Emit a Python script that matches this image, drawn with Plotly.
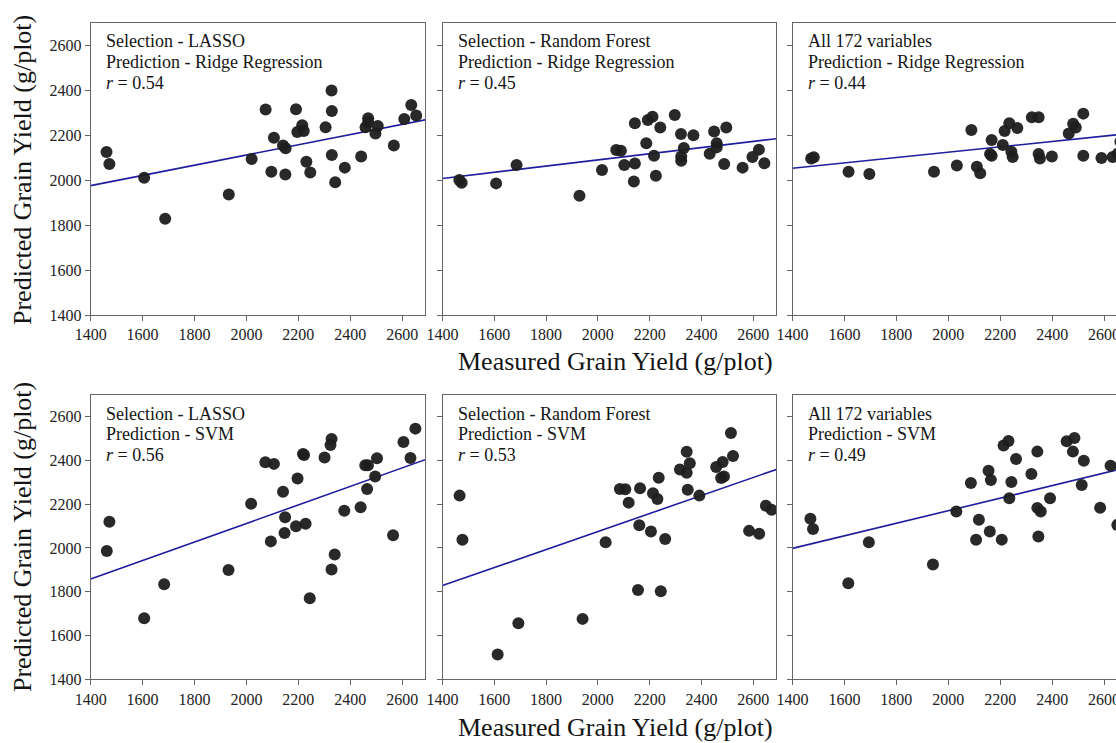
import plotly.graph_objects as go

# ---------------- data ----------------
# Top row: Ridge Regression
p1_x = [1461, 1472, 1606, 1687, 1932, 2020, 2074, 2096, 2106, 2141, 2150, 2151, 2191, 2196, 2215, 2221, 2231,
        2246, 2305, 2328, 2329, 2329, 2342, 2379, 2442, 2459, 2469, 2469, 2497, 2506, 2568, 2608, 2635, 2654]
p1_y = [2124, 2071, 2010, 1828, 1936, 2093, 2313, 2037, 2188, 2153, 2024, 2141, 2314, 2213, 2243, 2218, 2081,
        2033, 2234, 2398, 2307, 2111, 1990, 2055, 2104, 2234, 2274, 2256, 2207, 2240, 2153, 2271, 2333, 2287]

p2_x = [1465, 1474, 1607, 1686, 1929, 2016, 2071, 2089, 2102, 2143, 2143, 2139, 2187, 2193, 2211, 2217, 2224,
        2241, 2297, 2321, 2322, 2322, 2332, 2369, 2432, 2449, 2459, 2459, 2488, 2496, 2559, 2597, 2622, 2643]
p2_y = [2000, 1988, 1985, 2067, 1930, 2044, 2133, 2130, 2067, 2252, 2073, 1993, 2163, 2267, 2281, 2108, 2019,
        2233, 2289, 2204, 2104, 2086, 2142, 2199, 2117, 2216, 2163, 2145, 2071, 2233, 2055, 2102, 2135, 2074]

p3_x = [1472, 1482, 1616, 1696, 1945, 2033, 2089, 2110, 2123, 2161, 2167, 2167, 2210, 2217, 2235, 2243, 2248,
        2266, 2322, 2348, 2348, 2353, 2399, 2464, 2481, 2491, 2520, 2520, 2590, 2633, 2652, 2663]
p3_y = [2096, 2101, 2037, 2027, 2037, 2064, 2222, 2059, 2030, 2116, 2178, 2108, 2156, 2218, 2252, 2126, 2102,
        2231, 2279, 2279, 2116, 2096, 2104, 2207, 2250, 2233, 2295, 2108, 2098, 2102, 2116, 2170]

# Bottom row: SVM
p4_x = [1462, 1472, 1606, 1683, 1931, 2018, 2073, 2094, 2106, 2141, 2149, 2147, 2191, 2197, 2218, 2222, 2228,
        2244, 2301, 2328, 2324, 2328, 2340, 2377, 2440, 2458, 2468, 2465, 2496, 2503, 2565, 2605, 2632, 2651]
p4_y = [1986, 2120, 1679, 1834, 1899, 2202, 2391, 2030, 2384, 2257, 2140, 2068, 2099, 2317, 2429, 2425, 2111,
        1770, 2413, 2498, 2470, 1902, 1970, 2170, 2186, 2378, 2378, 2269, 2326, 2410, 2058, 2484, 2411, 2545]

p5_x = [1466, 1477, 1613, 1693, 1941, 2030, 2085, 2106, 2119, 2163, 2160, 2155, 2205, 2213, 2230, 2235, 2260,
        2243, 2317, 2343, 2343, 2355, 2347, 2392, 2457, 2482, 2476, 2487, 2514, 2522, 2584, 2623, 2649, 2671]
p5_y = [2239, 2037, 1513, 1656, 1676, 2026, 2269, 2268, 2207, 2273, 2104, 1808, 2075, 2250, 2224, 2321, 2041,
        1802, 2358, 2344, 2439, 2387, 2266, 2239, 2370, 2393, 2320, 2326, 2525, 2420, 2078, 2065, 2193, 2174]

p6_x = [1469, 1479, 1615, 1694, 1941, 2031, 2087, 2107, 2118, 2155, 2164, 2160, 2206, 2213, 2232, 2235, 2243,
        2261, 2320, 2343, 2343, 2356, 2347, 2392, 2456, 2486, 2480, 2522, 2514, 2585, 2625, 2651]
p6_y = [2133, 2087, 1839, 2026, 1924, 2166, 2297, 2037, 2129, 2353, 2310, 2075, 2038, 2468, 2488, 2227, 2301,
        2406, 2338, 2440, 2183, 2167, 2052, 2227, 2487, 2502, 2440, 2398, 2288, 2184, 2376, 2105]

# fitted regression lines: value at x = 1400 and at x = 2700
line_x = [1400, 2700]
p1_line = [1975, 2270]
p2_line = [2007, 2185]
p3_line = [2052, 2207]
p4_line = [1858, 2408]
p5_line = [1828, 2363]
p6_line = [1998, 2371]

panel_lines = [
    ["Selection - LASSO", "Prediction - Ridge Regression", "<i>r</i> = 0.54"],
    ["Selection - Random Forest", "Prediction - Ridge Regression", "<i>r</i> = 0.45"],
    ["All 172 variables", "Prediction - Ridge Regression", "<i>r</i> = 0.44"],
    ["Selection - LASSO", "Prediction - SVM", "<i>r</i> = 0.56"],
    ["Selection - Random Forest", "Prediction - SVM", "<i>r</i> = 0.53"],
    ["All 172 variables", "Prediction - SVM", "<i>r</i> = 0.49"],
]
x_ticks = [1400, 1600, 1800, 2000, 2200, 2400, 2600]
y_ticks = [1400, 1600, 1800, 2000, 2200, 2400, 2600]
x_title = "Measured Grain Yield (g/plot)"
y_title = "Predicted Grain Yield (g/plot)"

# ---------------- figure ----------------
W, H = 1116, 743
FONT = "Liberation Serif, Times New Roman, serif"
AX = "#666666"
DOT = "#1e1e1e"
LINE = "#1e1e9e"
TXT = "#151515"

panels = [
    (p1_x, p1_y, p1_line), (p2_x, p2_y, p2_line), (p3_x, p3_y, p3_line),
    (p4_x, p4_y, p4_line), (p5_x, p5_y, p5_line), (p6_x, p6_y, p6_line),
]

xdomains_px = [(90.7, 425.0), (442.5, 776.0), (792.5, 1116.0)]
ydomains_px = [(22.5, 315.0), (394.7, 679.3)]  # (top, bottom)
xranges = [[1400, 2688], [1400, 2688], [1400, 2646]]

fig = go.Figure()
layout = dict(
    width=W, height=H, margin=dict(l=0, r=0, t=0, b=0, pad=0), autosize=False,
    paper_bgcolor="white", plot_bgcolor="white", showlegend=False,
    font=dict(family=FONT, color=TXT, size=16),
)
annotations = []
for i, (xs, ys, ln) in enumerate(panels):
    row, col = divmod(i, 3)
    n = i + 1
    xa = "x" if n == 1 else f"x{n}"
    ya = "y" if n == 1 else f"y{n}"
    fig.add_trace(go.Scatter(x=line_x, y=ln, mode="lines", xaxis=xa, yaxis=ya,
                             line=dict(color=LINE, width=1.6), hoverinfo="skip"))
    fig.add_trace(go.Scatter(x=xs, y=ys, mode="markers", xaxis=xa, yaxis=ya,
                             marker=dict(size=12, color=DOT, opacity=0.95, line=dict(width=0))))
    xkey = "xaxis" if n == 1 else f"xaxis{n}"
    ykey = "yaxis" if n == 1 else f"yaxis{n}"
    x0, x1 = xdomains_px[col]
    t0, b0 = ydomains_px[row]
    layout[xkey] = dict(domain=[x0 / W, x1 / W], range=xranges[col], anchor=ya,
                        tickvals=x_ticks, ticks="outside", ticklen=5, tickcolor=AX,
                        showline=True, linecolor=AX, linewidth=1, mirror=True,
                        showgrid=False, zeroline=False, automargin=False,
                        ticklabeloverflow="allow",
                        tickfont=dict(family=FONT, size=16, color="#222222"))
    layout[ykey] = dict(domain=[1 - b0 / H, 1 - t0 / H], range=[1400, 2700], anchor=xa,
                        tickvals=y_ticks, ticks="outside", ticklen=5, tickcolor=AX,
                        showline=True, linecolor=AX, linewidth=1, mirror=(col < 2),
                        showgrid=False, zeroline=False, showticklabels=(col == 0),
                        automargin=False,
                        tickfont=dict(family=FONT, size=16, color="#222222"))
    for k, txt in enumerate(panel_lines[i]):
        yc = t0 + 19 + 20.7 * k
        annotations.append(dict(text=txt, xref="paper", yref="paper",
                                x=(x0 + 13) / W, y=1 - yc / H,
                                xanchor="left", yanchor="middle", align="left", showarrow=False,
                                font=dict(family=FONT, size=18, color=TXT)))

for yc in [170, 537]:
    annotations.append(dict(text=y_title, xref="paper", yref="paper", x=22 / W, y=1 - yc / H,
                            textangle=-90, showarrow=False, xanchor="center", yanchor="middle",
                            font=dict(family=FONT, size=26, color=TXT)))
for yc in [361, 727]:
    annotations.append(dict(text=x_title, xref="paper", yref="paper", x=615 / W, y=1 - yc / H,
                            showarrow=False, xanchor="center", yanchor="middle",
                            font=dict(family=FONT, size=26, color=TXT)))

layout["annotations"] = annotations
fig.update_layout(**layout)
fig.write_html("out.html", config={"displayModeBar": False},
               post_script="document.body.style.margin='0px';document.body.style.overflow='hidden';")
